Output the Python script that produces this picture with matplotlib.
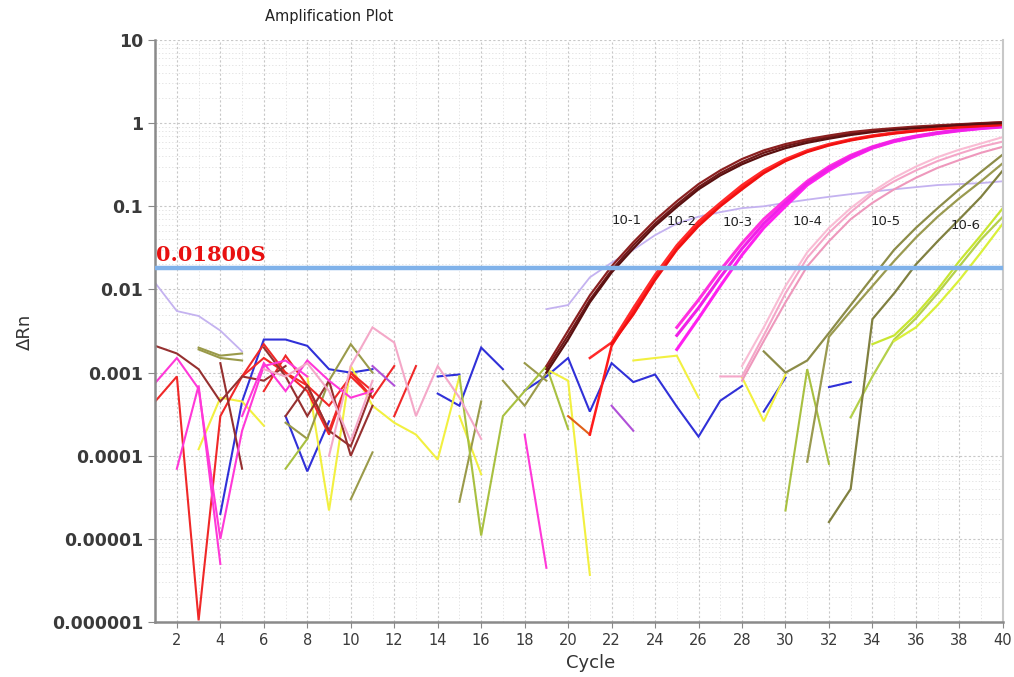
import matplotlib.pyplot as plt
from matplotlib.ticker import FixedLocator, LogLocator, NullFormatter

# threshold
threshold = 0.018
threshold_label = "0.01800S"

# x / y ticks
x_ticks = list(range(2, 41, 2))
y_ticks = [1e-6, 1e-5, 1e-4, 1e-3, 1e-2, 1e-1, 1, 10]
y_tick_labels = ["0.000001", "0.00001", "0.0001", "0.001", "0.01", "0.1", "1", "10"]

# amplification curves: (first cycle, dRn per cycle)
d1_a = (19, [0.0011, 0.0028, 0.0075, 0.017, 0.034, 0.062, 0.105, 0.17, 0.25, 0.34, 0.44,
             0.53, 0.61, 0.68, 0.75, 0.8, 0.85, 0.89, 0.93, 0.96, 0.99, 1.02])
d1_b = (19, [0.0012, 0.0032, 0.0085, 0.019, 0.037, 0.068, 0.115, 0.185, 0.27, 0.37, 0.47,
             0.56, 0.64, 0.71, 0.78, 0.83, 0.87, 0.91, 0.94, 0.97, 1.0, 1.03])
d1_c = (19, [0.001, 0.0025, 0.007, 0.016, 0.031, 0.058, 0.098, 0.16, 0.235, 0.32, 0.41,
             0.5, 0.58, 0.65, 0.72, 0.78, 0.83, 0.87, 0.91, 0.95, 0.98, 1.0])

d2_a = (21, [0.00018, 0.0021, 0.0055, 0.014, 0.032, 0.063, 0.105, 0.17, 0.26, 0.36, 0.46,
             0.55, 0.63, 0.7, 0.76, 0.81, 0.86, 0.9, 0.93, 0.96])
d2_b = (21, [0.0015, 0.0023, 0.006, 0.015, 0.034, 0.066, 0.11, 0.18, 0.27, 0.37, 0.47,
             0.56, 0.64, 0.71, 0.77, 0.82, 0.87, 0.91, 0.94, 0.97])
d2_c = (22, [0.0022, 0.005, 0.013, 0.03, 0.058, 0.1, 0.16, 0.25, 0.35, 0.45, 0.54, 0.62,
             0.69, 0.75, 0.8, 0.85, 0.89, 0.92, 0.95])

d3_a = (25, [0.0019, 0.0045, 0.011, 0.026, 0.055, 0.1, 0.18, 0.27, 0.38, 0.5, 0.6, 0.68,
             0.75, 0.81, 0.86, 0.9])
d3_b = (25, [0.0035, 0.0075, 0.017, 0.036, 0.07, 0.12, 0.2, 0.3, 0.41, 0.52, 0.62, 0.7,
             0.77, 0.83, 0.88, 0.92])
d3_c = (25, [0.0028, 0.006, 0.014, 0.031, 0.062, 0.11, 0.19, 0.285, 0.395, 0.51, 0.61,
             0.69, 0.76, 0.82, 0.87, 0.91])

d4_a = (27, [0.0009, 0.0009, 0.0028, 0.009, 0.024, 0.048, 0.085, 0.14, 0.2, 0.27, 0.35,
             0.43, 0.52, 0.6])
d4_b = (28, [0.0012, 0.0035, 0.011, 0.028, 0.055, 0.095, 0.15, 0.22, 0.3, 0.39, 0.48,
             0.57, 0.68])
d4_c = (28, [0.0008, 0.0024, 0.007, 0.019, 0.038, 0.07, 0.11, 0.16, 0.22, 0.29, 0.36,
             0.44, 0.52])

d5_a = (29, [0.0018, 0.001, 0.0014, 0.003, 0.0065, 0.014, 0.03, 0.055, 0.095, 0.16, 0.26, 0.42])
d5_b = (31, [0.000085, 0.0027, 0.0055, 0.011, 0.022, 0.042, 0.075, 0.125, 0.2, 0.33])
d5_c = (32, [0.000016, 0.00004, 0.0044, 0.009, 0.02, 0.038, 0.07, 0.13, 0.27])

d6_a = (34, [0.0022, 0.0028, 0.005, 0.01, 0.022, 0.045, 0.095])
d6_b = (33, [0.00029, 0.0009, 0.0025, 0.0045, 0.009, 0.019, 0.04, 0.075])
d6_c = (35, [0.0024, 0.0035, 0.0065, 0.013, 0.028, 0.062])

lavender = [
    (1, [0.012, 0.0055, 0.0048, 0.0032, 0.0018]),
    (19, [0.0058, 0.0065, 0.014, 0.021, 0.03, 0.045, 0.062, 0.075, 0.085, 0.095, 0.1,
          0.11, 0.12, 0.13, 0.14, 0.15, 0.16, 0.17, 0.18, 0.185, 0.19, 0.2]),
]

# baseline noise pieces, grouped by colour
blue_noise = [
    (4, [0.00002, 0.00045, 0.0025, 0.0025, 0.0021, 0.0011, 0.001, 0.0011]),
    (7, [0.0003, 0.000065, 0.00026]),
    (14, [0.00056, 0.0004, 0.002, 0.0011]),
    (14, [0.0009, 0.00095]),
    (18, [0.00061, 0.0009, 0.0015, 0.00034, 0.0013, 0.00077, 0.00095, 0.00039, 0.00017,
          0.00046, 0.00069]),
    (29, [0.00034, 0.00087]),
    (32, [0.00067, 0.00077]),
]
yellow_noise = [
    (3, [0.00012, 0.0005, 0.00045, 0.00023]),
    (8, [0.0009, 0.000022, 0.0012, 0.0004, 0.00025, 0.00018, 0.00009, 0.0009]),
    (15, [0.0003, 0.00006]),
    (19, [0.0011, 0.0008, 0.0000037]),
    (23, [0.0014, 0.0015, 0.0016, 0.0005]),
    (28, [0.00088, 0.00026, 0.00095]),
]
olive_noise = [
    (3, [0.002, 0.0016, 0.0017]),
    (3, [0.0019, 0.0015, 0.0014]),
    (7, [0.00025, 0.00016, 0.0008, 0.0022, 0.001]),
    (10, [0.00003, 0.00011]),
    (15, [0.000028, 0.00045]),
    (17, [0.0008, 0.0004, 0.001]),
    (18, [0.0013, 0.0008]),
]
green_noise = [
    (7, [0.00007, 0.00016]),
    (15, [0.0009, 0.000011, 0.0003, 0.0006, 0.0012, 0.00021]),
    (30, [0.000022, 0.0011, 0.00008]),
]
red_noise = [
    (1, [0.00045, 0.0009, 0.00000105, 0.0003, 0.0009, 0.0015, 0.001, 0.0007, 0.0002,
         0.001, 0.0006]),
    (5, [0.0009, 0.0022, 0.001, 0.0006, 0.00018, 0.001, 0.0005]),
    (6, [0.0006, 0.0016, 0.0007, 0.0004, 0.0009, 0.0005, 0.0012]),
    (12, [0.0003, 0.0012]),
]
darkred_noise = [
    (1, [0.0021, 0.0017, 0.0011, 0.00045, 0.0009, 0.0008, 0.0012]),
    (4, [0.0013, 0.00007]),
    (6, [0.002, 0.0009, 0.0003, 0.0008, 0.0001, 0.0004]),
    (7, [0.0003, 0.0007, 0.0002, 0.00013, 0.00064]),
]
magenta_noise = [
    (1, [0.00075, 0.0015, 0.00064, 0.00001, 0.0002, 0.0012, 0.0014, 0.0009]),
    (2, [0.00007, 0.0007, 0.000005]),
    (5, [0.0003, 0.0013, 0.0006, 0.0014, 0.0008, 0.0005, 0.0006]),
    (18, [0.00018, 0.0000045]),
]
pink_noise = [
    (6, [0.0011, 0.0009, 0.0013, 0.0006, 0.00015, 0.0008]),
    (9, [0.0001, 0.0012, 0.0035, 0.0023, 0.0003, 0.0012, 0.0005, 0.00016]),
]
violet_noise = [
    (11, [0.0012, 0.0007]),
    (22, [0.0004, 0.0002]),
]
orange_noise = [
    (20, [0.0003, 0.00018]),
]

# dilution labels
dilution_labels = ["10-1", "10-2", "10-3", "10-4", "10-5", "10-6"]
label_cycles = [22.7, 25.2, 27.8, 31.0, 34.6, 38.3]
label_values = [0.068, 0.066, 0.064, 0.065, 0.065, 0.058]


def draw(ax, piece, color, lw=1.5):
    start, vals = piece
    xs = list(range(start, start + len(vals)))
    ax.plot(xs, vals, color=color, lw=lw, solid_joinstyle="miter")


fig = plt.figure(figsize=(10.14, 6.77), dpi=100)
ax = fig.add_axes([0.153, 0.081, 0.836, 0.86])
ax.set_yscale("log")
ax.set_xlim(1, 40)
ax.set_ylim(1e-6, 10)

# grid
ax.xaxis.set_major_locator(FixedLocator(x_ticks))
ax.xaxis.set_minor_locator(FixedLocator(range(1, 41)))
ax.yaxis.set_major_locator(FixedLocator(y_ticks))
ax.yaxis.set_minor_locator(LogLocator(base=10, subs=range(2, 10)))
ax.yaxis.set_minor_formatter(NullFormatter())
ax.grid(which="major", color="#c8c8c8", ls=(0, (2, 2)), lw=0.8)
ax.grid(which="minor", color="#dedede", ls=(0, (1.5, 2.5)), lw=0.6)
ax.set_axisbelow(True)

# noise first
for p in blue_noise:
    draw(ax, p, "#3030d8")
for p in yellow_noise:
    draw(ax, p, "#f2f040")
for p in olive_noise:
    draw(ax, p, "#9a9a4a")
for p in green_noise:
    draw(ax, p, "#a8c040")
for p in red_noise:
    draw(ax, p, "#f02828")
for p in darkred_noise:
    draw(ax, p, "#963030")
for p in magenta_noise:
    draw(ax, p, "#ff38d8")
for p in pink_noise:
    draw(ax, p, "#f4a8c8")
for p in violet_noise:
    draw(ax, p, "#b050d8")
for p in orange_noise:
    draw(ax, p, "#e06018")
for p in lavender:
    draw(ax, p, "#c4b2f0", 1.3)

# amplification curves
draw(ax, d6_a, "#c8e632", 1.6)
draw(ax, d6_b, "#b4d04a", 1.6)
draw(ax, d6_c, "#daf03a", 1.6)
draw(ax, d5_a, "#8c8c48", 1.6)
draw(ax, d5_b, "#9a9a50", 1.6)
draw(ax, d5_c, "#808040", 1.6)
draw(ax, d4_a, "#f4a6c8", 1.5)
draw(ax, d4_b, "#f9bcd4", 1.5)
draw(ax, d4_c, "#ee98bc", 1.5)
draw(ax, d3_a, "#ff20f0", 2.2)
draw(ax, d3_b, "#ff30e0", 2.2)
draw(ax, d3_c, "#f020e8", 2.2)
draw(ax, d2_a, "#ff1a1a", 1.8)
draw(ax, d2_b, "#ff2a2a", 1.8)
draw(ax, d2_c, "#f01010", 1.8)
draw(ax, d1_a, "#701818", 1.6)
draw(ax, d1_b, "#8b2020", 1.6)
draw(ax, d1_c, "#5a1010", 1.6)

# threshold
ax.axhline(threshold, color="#80b2ea", lw=3.2, zorder=5)
ax.text(1.05, threshold * 1.08, threshold_label, color="#e81010", fontsize=15,
        fontweight="bold", family="DejaVu Serif", va="bottom", ha="left", zorder=6)

for lab, cx, cy in zip(dilution_labels, label_cycles, label_values):
    ax.text(cx, cy, lab, fontsize=9.5, color="#222222", ha="center", va="center", zorder=6)

# axes styling
ax.set_yticklabels(y_tick_labels, fontweight="bold")
ax.tick_params(axis="y", which="major", labelsize=12.5, labelcolor="#3a3a3a",
               length=5, color="#888888")
ax.tick_params(axis="x", which="major", labelsize=10.5, labelcolor="#3a3a3a",
               length=4, color="#888888")
ax.tick_params(which="minor", length=0)
ax.spines["top"].set_visible(False)
ax.spines["left"].set_color("#8a8a8a")
ax.spines["left"].set_linewidth(1.8)
ax.spines["bottom"].set_color("#8a8a8a")
ax.spines["bottom"].set_linewidth(1.8)
ax.spines["right"].set_color("#c8c8c8")
ax.spines["right"].set_linewidth(1.5)

fig.text(0.325, 0.975, "Amplification Plot", fontsize=10.5, color="#222222",
         ha="center", va="center")
fig.text(0.582, 0.021, "Cycle", fontsize=13, color="#333333", ha="center", va="center")
fig.text(0.025, 0.51, "ΔRn", fontsize=13, color="#333333", ha="center", va="center",
         rotation=90)

fig.savefig("out.png", dpi=100)
